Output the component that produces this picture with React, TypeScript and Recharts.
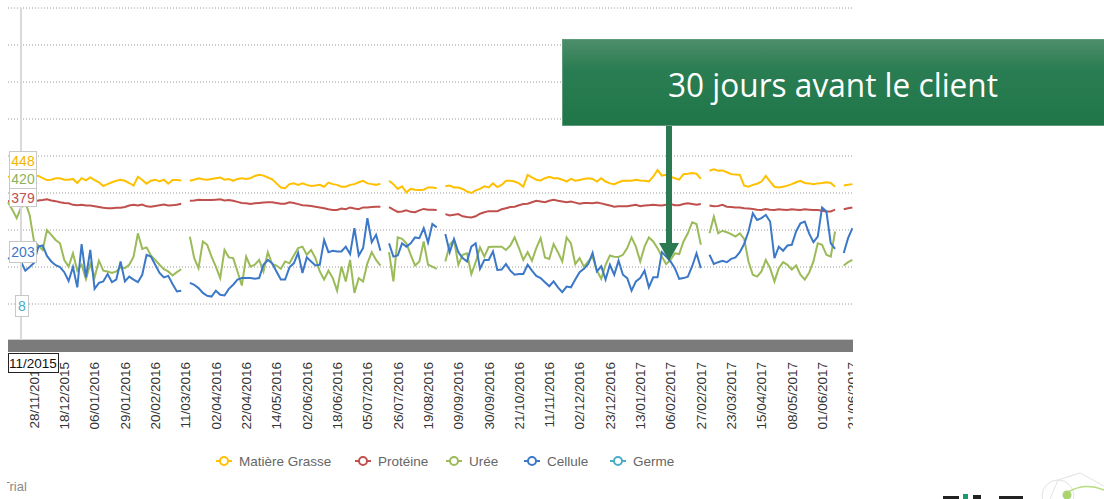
import React from 'react';
import { LineChart, Line, XAxis, YAxis, CartesianGrid } from 'recharts';

// x-axis labels, one every 7 samples (first label at sample 6)
const tickLabels = [
  '28/11/2015', '18/12/2015', '06/01/2016', '29/01/2016', '20/02/2016', '11/03/2016', '02/04/2016',
  '22/04/2016', '14/05/2016', '02/06/2016', '18/06/2016', '05/07/2016', '26/07/2016', '19/08/2016',
  '09/09/2016', '30/09/2016', '21/10/2016', '11/11/2016', '02/12/2016', '23/12/2016', '13/01/2017',
  '06/02/2017', '27/02/2017', '23/03/2017', '15/04/2017', '08/05/2017', '01/06/2017', '21/06/2017',
];

// values on the chart's own (normalised) scale, null = no sample
const matiereGrasse = [
  444, 444, 446, 449, 449, 447, 447, 446, 440, 435,
  436, 440, 440, 436, 436, 438, 427, 440, 434, 442,
  435, 429, 419, 424, 429, 433, 436, 433, 427, 420,
  444, 435, 425, 433, 436, 431, 436, 425, 435, 435,
  434, null, 433, 436, 440, 437, 436, 438, 440, 442,
  436, 438, 433, 438, 440, 438, 440, 446, 449, 447,
  442, 437, 426, 415, 413, 424, 426, 422, 426, 422,
  419, 420, 422, 417, 428, 424, 422, 417, 417, 422,
  424, 429, 433, 426, 424, 422, 425, null, 433, 424,
  411, 418, 402, 411, 409, 408, 409, 415, 415, 413,
  null, 418, 420, 415, 415, 411, 404, 400, 407, 411,
  418, 415, 426, 416, 422, 433, 433, 431, 426, 417,
  449, 442, 436, 434, 440, 444, 440, 440, 436, 431,
  438, 433, 435, 438, 440, 438, 431, 440, 431, 426,
  424, 429, 433, 433, 433, 436, 434, 433, 431, 444,
  462, 447, 449, 444, 440, 436, 451, 452, 454, 452,
  438, null, 460, 464, 460, 461, 456, 451, 450, 449,
  420, 417, 422, 425, 431, 446, 431, 417, 415, 417,
  420, 424, 429, 433, 427, 426, 424, 426, 427, 429,
  427, 417, null, 420, 422, 424,
];

const proteine = [
  378, 378, 378, 378, 379, 378, 378, 380, 381, 383,
  380, 378, 375, 373, 372, 368, 367, 368, 366, 366,
  364, 362, 360, 359, 359, 360, 360, 362, 366, 368,
  366, 369, 364, 363, 365, 367, 369, 366, 367, 368,
  371, null, 379, 380, 382, 381, 381, 381, 382, 383,
  380, 381, 379, 376, 373, 372, 370, 372, 373, 374,
  375, 375, 373, 371, 371, 375, 373, 370, 367, 366,
  365, 363, 361, 359, 356, 354, 354, 358, 356, 361,
  358, 356, 361, 361, 362, 363, 363, null, 362, 355,
  349, 350, 353, 349, 348, 353, 357, 355, 355, 354,
  null, 343, 339, 341, 343, 337, 335, 334, 337, 344,
  348, 351, 351, 351, 356, 359, 362, 363, 367, 370,
  371, 375, 379, 377, 375, 379, 382, 379, 377, 375,
  377, 374, 371, 373, 373, 372, 374, 372, 369, 366,
  363, 364, 364, 364, 366, 368, 364, 366, 367, 368,
  367, 366, 368, 370, 367, 367, 370, 372, 370, 368,
  370, null, 366, 364, 365, 368, 363, 362, 361, 361,
  359, 358, 357, 355, 354, 357, 355, 354, 356, 355,
  354, 356, 355, 354, 356, 355, 354, 354, 352, 350,
  350, 355, null, 356, 359, 361,
];

const uree = [
  375, 355, 332, 360, 376, 340, 270, 258, 246, 300,
  287, 273, 264, 219, 201, 237, 190, 206, 167, 208,
  172, 217, 190, 188, 184, 188, 199, 197, 206, 228,
  291, 249, 253, 231, 219, 206, 194, 188, 177, 186,
  194, null, 282, 224, 197, 269, 260, 228, 201, 170,
  246, 226, 224, 188, 150, 228, 201, 206, 219, 188,
  240, 208, 204, 195, 215, 210, 231, 251, 255, 233,
  246, 224, 188, 166, 190, 170, 136, 201, 161, 219,
  130, 170, 161, 210, 240, 219, 204, null, 240, 161,
  280, 276, 264, 233, 204, 215, 269, 206, 201, 195,
  null, 215, 260, 273, 206, 233, 237, 181, 213, 253,
  228, 254, 255, 255, 255, 246, 258, 280, 251, 219,
  240, 217, 251, 278, 226, 222, 262, 240, 215, 280,
  264, 208, 224, 201, 215, 228, 190, 168, 206, 231,
  228, 227, 233, 251, 280, 255, 215, 255, 280, 269,
  251, 228, 208, 219, 237, 235, 269, 291, 321, 316,
  260, null, 291, 336, 291, 298, 294, 289, 282, 291,
  276, 215, 179, 174, 188, 219, 197, 161, 197, 213,
  206, 193, 204, 179, 166, 184, 215, 264, 260, 233,
  228, 296, null, 204, 213, 219,
];

const cellule = [
  224, 219, 215, 214, 190, 200, 211, 255, 258, 230,
  215, 205, 200, 186, 162, 200, 145, 262, 172, 246,
  141, 157, 161, 181, 159, 166, 215, 161, 174, 166,
  159, 179, 233, 228, 206, 184, 172, 176, 154, 134,
  136, null, 157, 152, 143, 130, 122, 120, 136, 125,
  123, 141, 152, 166, 170, 170, 170, 168, 170, 206,
  219, 210, 188, 166, 166, 199, 210, 238, 184, 226,
  215, 204, 206, 273, 240, 244, 242, 242, 255, 235,
  305, 231, 251, 332, 267, 287, 244, null, 264, 228,
  231, 264, 255, 264, 280, 278, 305, 266, 316, 307,
  null, 289, 240, 276, 240, 224, 215, 255, 264, 195,
  219, 219, 242, 192, 193, 208, 190, 179, 181, 181,
  206, 190, 176, 170, 159, 148, 161, 145, 132, 147,
  145, 166, 186, 195, 208, 238, 188, 202, 166, 206,
  179, 217, 179, 170, 136, 161, 170, 190, 145, 172,
  172, 240, 228, 215, 197, 168, 170, 174, 202, 237,
  197, null, 233, 208, 213, 217, 213, 222, 226, 240,
  262, 296, 345, 327, 332, 341, 323, 224, 255, 244,
  258, 260, 296, 318, 323, 291, 267, 282, 361, 350,
  264, 249, null, 238, 278, 305,
];

// values shown by the cursor on the left edge
const cursorValues = ['448', '420', '379', '203', '8'];
const cursorDate = '11/2015';

const seriesNames = ['Matière Grasse', 'Protéine', 'Urée', 'Cellule', 'Germe'];
const seriesKeys = ['mg', 'prot', 'uree', 'cell', 'germe'];
const seriesColors = ['#FFC000', '#C0504D', '#9BBB59', '#3C78C8', '#4BACC6'];

const data = matiereGrasse.map((v, i) => ({
  i,
  mg: v,
  prot: proteine[i],
  uree: uree[i],
  cell: cellule[i],
}));

const FONT = "'Liberation Sans', Arial, sans-serif";

function DateTick(props: any) {
  const { x, y, payload } = props;
  const k = Math.round((payload.value - 6) / 7);
  return (
    <text
      x={x}
      y={y}
      dy="0.36em"
      transform={`rotate(-90 ${x} ${y})`}
      textAnchor="end"
      fontSize={13.5}
      fontFamily={FONT}
      fill="#333"
    >
      {tickLabels[k]}
    </text>
  );
}

// layout of the cursor boxes: [x, y, w, h]
const cursorBoxes = [
  [9, 151, 27, 18],
  [9, 169, 27, 19],
  [9, 188, 27, 18],
  [9, 241, 27, 21],
  [15, 295, 13, 21],
];
const cursorColors = ['#F5B400', '#8DB255', '#C0504D', '#3C78C8', '#4BACC6'];
const legendX = [224, 363, 454, 532, 618];

export default function App() {
  return (
    <div
      style={{
        position: 'fixed',
        left: 0,
        top: 0,
        width: 1104,
        height: 499,
        background: '#fff',
        overflow: 'hidden',
        fontFamily: FONT,
      }}
    >
      <div style={{ position: 'absolute', left: 0, top: 0, width: 853, height: 440, overflow: 'hidden' }}>
        <LineChart width={870} height={440} data={data} margin={{ top: 8, right: 17.6, left: 8, bottom: 0 }}>
          <CartesianGrid vertical={false} stroke="#9a9a9a" strokeDasharray="1 2" />
          <YAxis hide type="number" domain={[0, 900]} ticks={[0, 100, 200, 300, 400, 500, 600, 700, 800, 900]} />
          <XAxis
            dataKey="i"
            type="number"
            domain={[0, 195]}
            ticks={tickLabels.map((_, k) => 6 + 7 * k)}
            interval={0}
            height={99}
            axisLine={false}
            tickLine={false}
            tickSize={0}
            tickMargin={21}
            tick={<DateTick />}
          />
          {seriesKeys.slice(0, 4).map((k, idx) => (
            <Line
              key={k}
              type="linear"
              dataKey={k}
              name={seriesNames[idx]}
              stroke={seriesColors[idx]}
              strokeWidth={2}
              dot={false}
              connectNulls={false}
              isAnimationActive={false}
            />
          ))}
        </LineChart>
      </div>

      <svg width={1104} height={499} style={{ position: 'absolute', left: 0, top: 0 }}>
        <defs>
          <linearGradient id="boxGrad" x1="0" y1="0" x2="0" y2="1">
            <stop offset="0" stopColor="#4e8e6a" />
            <stop offset="0.35" stopColor="#2a7d52" />
            <stop offset="1" stopColor="#1f7649" />
          </linearGradient>
          <clipPath id="trialClip">
            <rect x={7} y={470} width={60} height={29} />
          </clipPath>
        </defs>

        {/* scroll bar under the plot */}
        <rect x={8} y={339} width={845} height={1} fill="#cfcfcf" />
        <rect x={8} y={340} width={845} height={12} fill="#7b7b7b" />

        {/* cursor line and values */}
        <rect x={20} y={8} width={2} height={332} fill="#d9d9d9" />
        {cursorBoxes.map(([x, y, w, h], k) => (
          <g key={k}>
            <rect x={x + 0.5} y={y + 0.5} width={w} height={h} fill="#fff" stroke="#c8c8c8" />
            <text
              x={x + w / 2 + 0.5}
              y={y + h / 2 + 0.5}
              dy="0.36em"
              textAnchor="middle"
              fontSize={14}
              fontFamily={FONT}
              fill={cursorColors[k]}
            >
              {cursorValues[k]}
            </text>
          </g>
        ))}
        <rect x={8.5} y={353.5} width={50} height={19} fill="#fff" stroke="#222" />
        <text x={9} y={363.5} dy="0.36em" fontSize={13.5} fontFamily={FONT} fill="#111">
          {cursorDate}
        </text>

        {/* annotation */}
        <rect x={562.5} y={39.5} width={545} height={86} fill="url(#boxGrad)" stroke="#5f9a79" />
        <text
          x={833}
          y={97}
          textAnchor="middle"
          fontFamily="'Open Sans', sans-serif"
          fontSize={32}
          fill="#fff"
          textLength={330}
          lengthAdjust="spacingAndGlyphs"
        >
          30 jours avant le client
        </text>
        <rect x={666} y={126} width={6} height={118} fill="#2b7a52" />
        <polygon points="659,243 679,243 669,261" fill="#2b7a52" />

        {/* watermark */}
        <text x={2} y={491} fontSize={13} fontFamily={FONT} fill="#8a8a8a" clipPath="url(#trialClip)">
          Trial
        </text>

        {/* partial logo, bottom right */}
        <circle cx={1058} cy={496} r={16} fill="none" stroke="#e2e2e2" />
        <polyline points="1050,499 1058,480 1080,473 1104,486" fill="none" stroke="#e2e2e2" />
        <path d="M1068,492 Q1085,482 1104,490" fill="none" stroke="#b5dc7e" strokeWidth={1.5} />
        <circle cx={1067} cy={495} r={4.5} fill="#a9d46f" />
        <rect x={943} y={496} width={16} height={3} fill="#222" />
        <rect x={963} y={494} width={5} height={5} fill="#1a9a6c" />
        <rect x={973} y={495} width={8} height={4} fill="#222" />
        <rect x={999} y={496} width={24} height={3} fill="#222" />
      </svg>

      {/* legend */}
      {seriesNames.map((name, k) => (
        <div
          key={name}
          style={{
            position: 'absolute',
            left: legendX[k] - 8,
            top: 452,
            height: 18,
            display: 'flex',
            alignItems: 'center',
            whiteSpace: 'nowrap',
          }}
        >
          <svg width={16} height={16} style={{ display: 'block' }}>
            <line x1={0} y1={8} x2={16} y2={8} stroke={seriesColors[k]} strokeWidth={2} />
            <circle cx={8} cy={8} r={4} fill="#fff" stroke={seriesColors[k]} strokeWidth={2} />
          </svg>
          <span style={{ marginLeft: 7, fontSize: 13.5, color: '#666' }}>{name}</span>
        </div>
      ))}
    </div>
  );
}
